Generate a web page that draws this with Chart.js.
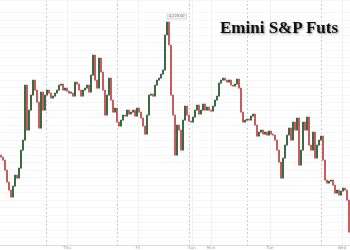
<!DOCTYPE html>
<html>
<head>
<meta charset="utf-8">
<script src="https://cdn.jsdelivr.net/npm/chart.js@4/dist/chart.umd.min.js"></script>
<style>
  html, body { margin: 0; padding: 0; background: #ffffff; }
  #wrap { position: relative; width: 350px; height: 250px; }
  #title {
    position: absolute; left: 220px; top: 19px;
    font-family: "Liberation Serif", "DejaVu Serif", serif;
    font-weight: bold; font-size: 17px; line-height: 1; color: #111;
    text-shadow: 1px 1px 2px rgba(0,0,0,0.45);
    white-space: nowrap;
  }
</style>
</head>
<body>
<div id="wrap">
  <canvas id="c" width="350" height="250"></canvas>
  <div id="title">Emini S&amp;P Futs</div>
</div>
<script>
// Closing prices per time slot
const closes = [
  4093,4090,4080,4068,4060,4053,4064,4075,4072,4082,
  4100,4110,4165,4120,4140,4155,4170,4160,4148,4122,
  4158,4140,4155,4160,4157,4152,4154,4157,4160,4165,
  4166,4160,4162,4159,4157,4157,4154,4168,4166,4160,
  4154,4160,4162,4165,4158,4175,4195,4170,4162,4192,
  4178,4160,4135,4155,4172,4150,4138,4142,4128,4124,
  4130,4135,4134,4140,4136,4138,4140,4134,4142,4138,
  4132,4124,4116,4135,4155,4156,4154,4165,4170,4172,
  4176,4180,4215,4228,4205,4155,4135,4095,4125,4120,
  4100,4130,4144,4135,4129,4128,4133,4140,4145,4136,
  4140,4146,4140,4143,4140,4139,4144,4150,4154,4167,
  4170,4172,4170,4168,4170,4165,4164,4166,4171,4162,
  4138,4128,4130,4131,4130,4134,4136,4125,4114,4118,
  4120,4116,4118,4115,4119,4116,4115,4110,4100,4088,
  4072,4092,4105,4115,4122,4110,4128,4120,4132,4085,
  4100,4128,4120,4133,4105,4100,4118,4092,4105,4110,
  4114,4090,4070,4067,4069,4070,4065,4057,4060,4055,
  4059,4062,4060,4050,4018
];
const firstOpen = 4095;
const peakLabel = "4,228.00";
// Day tick labels and their slot positions; session break slots (dashed lines)
const dayLabels = ["Thu", "Fri", "Sun", "Mon", "Tue", "Wed"];
const dayLabelSlots = [33, 68.5, 95.5, 105, 134.5, 170.5];
const sessionBreakSlots = [22.5, 58, 94.5, 123.5, 160];
const yMin = 4005, yMax = 4250;

const UP = "#2f5f38";
const DOWN = "#c4524f";

const candles = closes.map((c, i) => ({ x: i, y: [i === 0 ? firstOpen : closes[i - 1], c] }));

const peakPlugin = {
  id: "peak",
  afterDatasetsDraw(chart) {
    const xs = chart.scales.x, ys = chart.scales.y, ctx = chart.ctx;
    let mi = 0;
    closes.forEach((v, i) => { if (v > closes[mi]) mi = i; });
    const px = xs.getPixelForValue(mi), py = ys.getPixelForValue(closes[mi]);
    ctx.save();
    ctx.font = "3.5px 'DejaVu Sans', sans-serif";
    const w = ctx.measureText(peakLabel).width + 4, h = 5;
    const bx = px, by = py - h - 3;
    ctx.fillStyle = "#f1f1f1";
    ctx.strokeStyle = "#c8c8c8";
    ctx.lineWidth = 0.6;
    ctx.fillRect(bx, by, w, h);
    ctx.strokeRect(bx, by, w, h);
    ctx.fillStyle = "#777";
    ctx.textBaseline = "middle";
    ctx.fillText(peakLabel, bx + 2, by + h / 2);
    ctx.restore();
  }
};

new Chart(document.getElementById("c"), {
  type: "bar",
  data: {
    datasets: [{
      data: candles,
      backgroundColor: (ctx) => {
        const v = ctx.raw && ctx.raw.y;
        return v && v[1] >= v[0] ? UP : DOWN;
      },
      borderWidth: 0,
      barThickness: 1.2,
      minBarLength: 1
    }]
  },
  options: {
    responsive: false,
    animation: false,
    devicePixelRatio: 1,
    layout: { padding: 0 },
    plugins: { legend: { display: false }, tooltip: { enabled: false } },
    scales: {
      x: {
        type: "linear",
        position: "bottom",
        offset: false,
        min: -0.5, max: 174.5,
        afterBuildTicks: (s) => { s.ticks = dayLabelSlots.map(v => ({ value: v })); },
        ticks: {
          autoSkip: false, maxRotation: 0, padding: 0,
          color: "#a0a0a0",
          font: { size: 4, family: "DejaVu Sans" },
          callback: (v) => dayLabels[dayLabelSlots.indexOf(v)]
        },
        grid: { color: "#f0f0f0", drawTicks: false, offset: false },
        border: { color: "#dcdcdc" }
      },
      x2: {
        type: "linear",
        position: "top",
        offset: false,
        min: -0.5, max: 174.5,
        afterBuildTicks: (s) => { s.ticks = sessionBreakSlots.map(v => ({ value: v })); },
        ticks: { display: false },
        grid: { color: "#c9c9c9", drawTicks: false, offset: false },
        border: { display: false, dash: [2, 2] }
      },
      y: {
        min: yMin, max: yMax,
        ticks: { display: false, stepSize: 7.5 },
        grid: { color: "#f5f5f5", drawTicks: false },
        border: { display: false }
      }
    }
  },
  plugins: [peakPlugin]
});
</script>
</body>
</html>
